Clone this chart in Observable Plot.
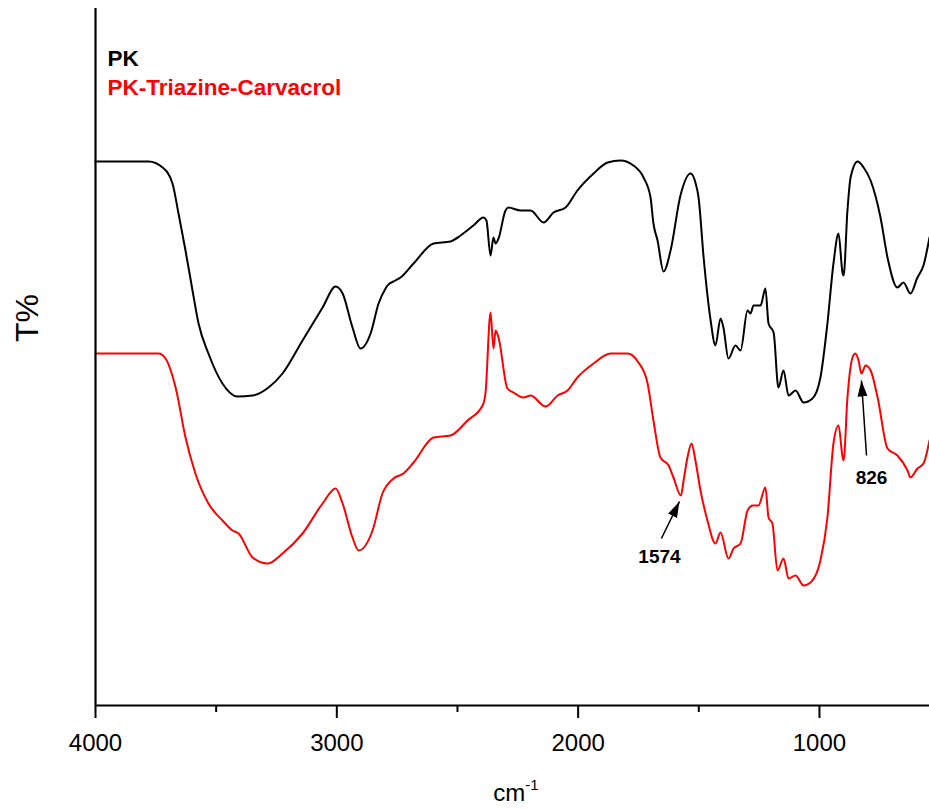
<!DOCTYPE html>
<html><head><meta charset="utf-8">
<script src="https://cdn.jsdelivr.net/npm/d3@7"></script>
<script src="https://cdn.jsdelivr.net/npm/@observablehq/plot@0.6"></script>
<style>body{margin:0;background:#fff;} #chart svg{display:block;}</style>
</head><body><div id="chart"></div>
<script>
// PK spectrum (wavenumber cm-1, T% in arbitrary offset units)
const pkWn = [4000,3780,3722,3681,3656,3627,3598,3573,3532,3474,3412,3349,3283,3225,3142,3059,3005,2976,2935,2902,2860,2827,2798,2790,2757,2736,2682,2599,2529,2487,2434,2392,2380,2363,2351,2342,2330,2301,2289,2239,2197,2143,2102,2052,2003,1936,1878,1824,1771,1729,1700,1688,1671,1646,1617,1576,1534,1514,1501,1480,1451,1431,1410,1398,1377,1348,1327,1298,1286,1273,1244,1224,1211,1190,1170,1149,1128,1099,1066,1029,996,967,942,921,904,900,884,871,842,817,788,747,718,677,652,623,594,569,544];
const pkT  = [108.8,108.8,107.6,104.4,98.4,91,83,76.4,70.4,64.4,61.8,62,63.6,66.4,73,79.6,83.8,82.4,75.6,71.4,74.4,80.4,83.4,84,85,85.6,88.4,92.4,92.8,94,96,97.6,97,90,93.6,92.4,93.4,99,99.6,99,99,96.6,98.6,99.6,103,106.4,108.6,109,108,105.6,101.6,96.4,93,86.8,91,102,106.4,104.6,101.6,89.6,77,72,77.4,75.6,69.4,72,71,79,78.4,80,80,83.4,76.4,74.6,63.6,67,62,63,60.6,61.4,65.6,76.4,88.4,94.4,86.4,86,99,105.6,108.8,107.6,105,97.6,89.6,83.6,84.6,82.4,85.6,88,93.6];
// PK-Triazine-Carvacrol spectrum
const pktcWn = [4000,3739,3710,3668,3627,3586,3532,3474,3432,3407,3349,3287,3225,3142,3059,3005,2976,2935,2910,2852,2811,2765,2724,2682,2599,2529,2458,2396,2384,2363,2351,2342,2330,2293,2268,2226,2197,2135,2085,2044,2003,1936,1866,1795,1750,1713,1688,1659,1625,1605,1574,1563,1547,1530,1514,1493,1464,1431,1410,1377,1356,1327,1298,1277,1253,1224,1211,1195,1174,1149,1128,1099,1066,1037,996,967,942,921,904,900,884,863,851,838,826,809,788,759,718,677,635,623,594,569,544];
const pktcT  = [70.4,70.4,69.4,63.6,53.6,46.4,40.4,37,35,34.4,29.6,28.4,30.4,34.4,40.4,43.4,40.4,33.6,31,35,42.4,45.4,46.4,48.6,53.6,54,57,60,62.4,78.6,71.4,75,73.6,63.4,62.6,61.6,62,59.8,62,63,65.6,68.4,70.4,70.4,68.6,64.6,57,49.6,48,45.6,42,45,49.6,52.4,49,43,37,32.4,34.6,29.4,31.4,32.4,39,40,40,43.6,37.6,36.4,27,29.4,25.4,26,24,24.6,29,37.6,52.4,56,49.6,49,61.6,69.6,70.4,69,66.4,68,67,61.6,51.4,50,47,45.6,47.4,48.4,53];

const seriesNames = ["PK", "PK-Triazine-Carvacrol"];
const seriesColors = ["#000000", "#ff0000"];
const majorTicks = [4000, 3000, 2000, 1000];
const minorTicks = [3500, 2500, 1500];
const annLabels = ["1574", "826"];
const annTailWn = [1655, 805];
const annTailT  = [33.4, 50];
const annTipWn  = [1580, 826];
const annTipT   = [40.8, 65];
const annTextWn = [1663, 784];
const annTextT  = [28.6, 44.4];

const rows = [
  ...pkWn.map((w, i) => ({wn: w, t: pkT[i], s: seriesNames[0]})),
  ...pktcWn.map((w, i) => ({wn: w, t: pktcT[i], s: seriesNames[1]}))
];
const anns = annLabels.map((l, i) => ({label: l, x1: annTailWn[i], y1: annTailT[i], x2: annTipWn[i], y2: annTipT[i], tx: annTextWn[i], ty: annTextT[i]}));

const plot = Plot.plot({
  width: 929, height: 809,
  marginLeft: 95, marginRight: 0, marginTop: 8, marginBottom: 104,
  style: {fontFamily: "'Liberation Sans', Arial, sans-serif", fontSize: "24px", background: "#fff", color: "#000", overflow: "visible"},
  x: {domain: [4000, 544]},
  y: {domain: [0, 139.4], axis: null},
  color: {domain: seriesNames, range: seriesColors},
  marks: [
    Plot.line(rows, {x: "wn", y: "t", z: "s", stroke: "s", strokeWidth: 2, curve: "monotone-x"}),
    Plot.ruleX([4000], {stroke: "#000", strokeWidth: 2.2}),
    Plot.ruleY([0], {stroke: "#000", strokeWidth: 2.2}),
    Plot.axisX({ticks: majorTicks, tickSize: 13, tickPadding: 15, strokeWidth: 2, fontSize: 24, label: null, tickFormat: d => String(d)}),
    Plot.axisX({ticks: minorTicks, tickSize: 7, strokeWidth: 2, label: null, tickFormat: () => ""}),
    Plot.text(["T%"], {frameAnchor: "left", rotate: -90, dx: -68, dy: -15, fontSize: 32, fill: "#000"}),
    Plot.text([seriesNames[0]], {frameAnchor: "top-left", fill: seriesColors[0], fontWeight: "bold", fontSize: 22.5, textAnchor: "start", lineAnchor: "bottom", dx: 12, dy: 57}),
    Plot.text([seriesNames[1]], {frameAnchor: "top-left", fill: seriesColors[1], fontWeight: "bold", fontSize: 22.5, textAnchor: "start", lineAnchor: "bottom", dx: 12, dy: 86}),
    Plot.link(anns, {x1: "x1", y1: "y1", x2: "x2", y2: "y2", stroke: "#000", strokeWidth: 1.5}),
    Plot.text(anns, {x: "tx", y: "ty", text: "label", fontWeight: "bold", fontSize: 19, lineAnchor: "bottom", fill: "#000"})
  ]
});
document.getElementById("chart").appendChild(plot);

const svg = d3.select(plot);
// arrowheads
const defs = svg.append("defs");
defs.append("marker").attr("id", "ahead").attr("viewBox", "0 0 16 10").attr("refX", 16).attr("refY", 5)
  .attr("markerWidth", 16).attr("markerHeight", 11).attr("markerUnits", "userSpaceOnUse").attr("orient", "auto")
  .append("path").attr("d", "M0,0L16,5L0,10Z").attr("fill", "#000");
svg.selectAll('g[aria-label="link"] path').attr("marker-end", "url(#ahead)");
// x axis title with superscript
const xl = svg.append("text").attr("x", 516).attr("y", 801).attr("text-anchor", "middle")
  .attr("font-size", 24).attr("fill", "#000");
xl.append("tspan").text("cm");
xl.append("tspan").attr("font-size", 15).attr("dy", -11).text("-1");
</script>
</body></html>
